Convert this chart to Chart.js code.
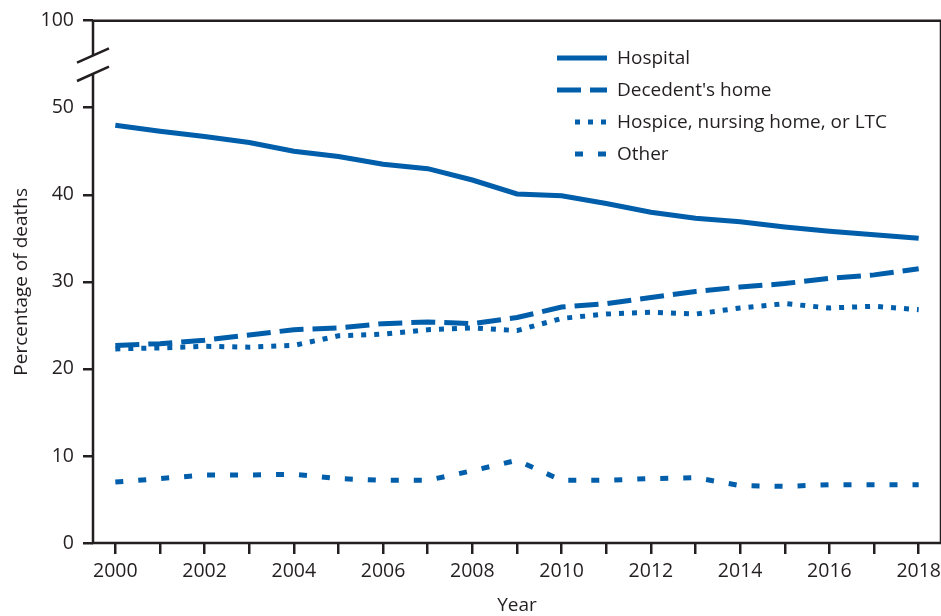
<!DOCTYPE html>
<html><head><meta charset="utf-8">
<script src="https://cdn.jsdelivr.net/npm/chart.js@4.4.1/dist/chart.umd.min.js"></script>
<style>html,body{margin:0;padding:0;background:#fff}#wrap{width:941px;height:616px;position:relative}</style>
</head><body><div id="wrap"><canvas id="c"></canvas></div>
<script>
const years = ['2000','2001','2002','2003','2004','2005','2006','2007','2008','2009','2010','2011','2012','2013','2014','2015','2016','2017','2018'];
const hospital = [48.0,47.3,46.7,46.0,45.0,44.4,43.5,43.0,41.7,40.1,39.9,39.0,38.0,37.3,36.9,36.3,35.8,35.4,35.0];
const decedentsHome = [22.7,22.9,23.3,23.9,24.5,24.7,25.2,25.4,25.2,25.9,27.1,27.5,28.2,28.9,29.4,29.8,30.4,30.8,31.5];
const hospiceNursingLTC = [22.3,22.4,22.6,22.5,22.7,23.8,24.0,24.5,24.7,24.4,25.8,26.3,26.5,26.3,27.0,27.5,27.0,27.2,26.8];
const other = [7.0,7.4,7.8,7.8,7.9,7.4,7.2,7.2,8.3,9.5,7.2,7.2,7.4,7.5,6.6,6.5,6.7,6.7,6.7];
const seriesNames = ['Hospital', "Decedent's home", 'Hospice, nursing home, or LTC', 'Other'];
const yTickValues = [0,10,20,30,40,50,60];
const yTickLabels = ['0','10','20','30','40','50','100'];

const BLUE = '#005EAA';
const INK = '#231f20';
const FONT = "'Open Sans', 'Noto Sans', sans-serif";

const dashes = [[], [24, 9], [5, 8], [8, 15]];

const frameAndLegend = {
  id: 'frameAndLegend',
  afterDraw(chart) {
    const {ctx, chartArea: {left, right, top, bottom}, scales: {y}} = chart;
    ctx.save();
    ctx.strokeStyle = INK;
    ctx.lineWidth = 2.5;
    ctx.lineCap = 'butt';
    const gapLow = y.getPixelForValue(53.9);
    const gapHigh = y.getPixelForValue(56.0);
    ctx.beginPath();
    ctx.moveTo(left, gapHigh);
    ctx.lineTo(left, top);
    ctx.lineTo(right, top);
    ctx.lineTo(right, bottom);
    ctx.lineTo(left - 1.2, bottom);
    ctx.moveTo(left, bottom);
    ctx.lineTo(left, gapLow);
    ctx.stroke();
    ctx.beginPath();
    [gapHigh, gapLow].forEach(py => {
      ctx.moveTo(left - 16, py + 7.2);
      ctx.lineTo(left + 16, py - 7.2);
    });
    ctx.stroke();

    const x1 = 607, tx = 617, rows = [58, 90, 122, 154];
    const starts = [557, 557, 575, 575];
    chart.data.datasets.forEach((ds, i) => {
      ctx.strokeStyle = ds.borderColor;
      ctx.lineWidth = ds.borderWidth;
      ctx.setLineDash(ds.borderDash || []);
      ctx.beginPath();
      ctx.moveTo(starts[i], rows[i]);
      ctx.lineTo(x1, rows[i]);
      ctx.stroke();
      ctx.setLineDash([]);
      ctx.fillStyle = INK;
      ctx.font = "19px " + FONT;
      ctx.textAlign = 'left';
      ctx.textBaseline = 'middle';
      ctx.fillText(ds.label, tx, rows[i] + 1);
    });
    ctx.restore();
  }
};

const seriesData = [hospital, decedentsHome, hospiceNursingLTC, other];

new Chart(document.getElementById('c'), {
  type: 'line',
  data: {
    labels: years,
    datasets: seriesData.map((d, i) => ({
      label: seriesNames[i],
      data: d,
      borderColor: BLUE,
      backgroundColor: BLUE,
      borderWidth: 5,
      borderDash: dashes[i],
      borderCapStyle: 'butt',
      pointRadius: 0,
      tension: 0,
      fill: false
    }))
  },
  options: {
    responsive: true,
    maintainAspectRatio: false,
    animation: false,
    layout: {padding: {top: 18, right: 0, left: 0, bottom: 0}},
    plugins: {legend: {display: false}, tooltip: {enabled: false}},
    scales: {
      x: {
        type: 'category',
        offset: true,
        grid: {display: true, drawOnChartArea: false, drawTicks: true, tickLength: 11, color: INK, lineWidth: 2.5, offset: false},
        border: {display: false},
        ticks: {
          autoSkip: false, maxRotation: 0, minRotation: 0, padding: 6,
          color: INK, font: {family: FONT, size: 19.5},
          callback: function(v, i) { const l = this.getLabelForValue(v); return (parseInt(l) % 2 === 0) ? l : ''; }
        },
        title: {display: true, text: 'Year', color: INK, font: {family: FONT, size: 19}, padding: {top: 0, bottom: -1}},
        afterFit(scale) { scale.height = 73; scale.paddingRight = 0; }
      },
      y: {
        min: 0, max: 60,
        afterBuildTicks(scale) { scale.ticks = yTickValues.map(v => ({value: v})); },
        grid: {display: true, drawOnChartArea: false, drawTicks: true, tickLength: 10, color: INK, lineWidth: 2.5},
        border: {display: false},
        ticks: {
          padding: 9, color: INK, font: {family: FONT, size: 19.5},
          callback: (v) => { const k = yTickValues.indexOf(v); return k >= 0 ? yTickLabels[k] : ''; }
        },
        title: {display: true, text: 'Percentage of deaths', color: INK, font: {family: FONT, size: 19}, padding: {top: 10, bottom: 0}},
        afterFit(scale) { scale.width = 93; }
      }
    }
  },
  plugins: [frameAndLegend]
});
</script>
</body></html>
